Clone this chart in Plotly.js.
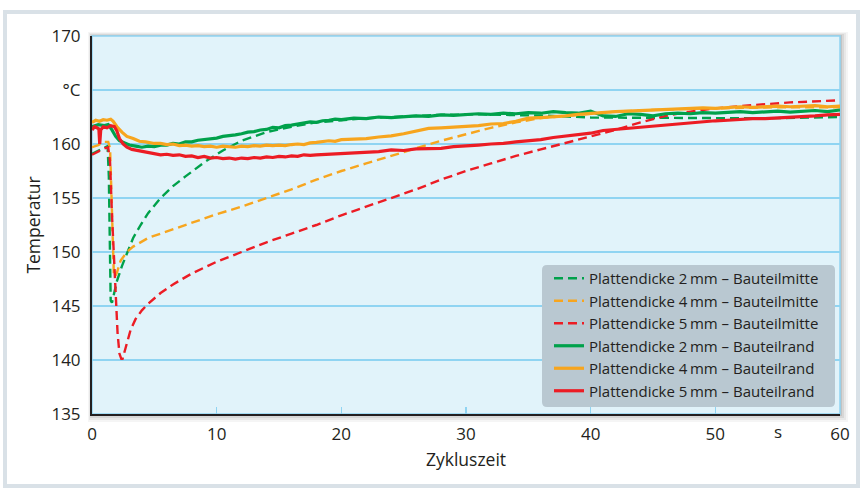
<!DOCTYPE html>
<html><head><meta charset="utf-8">
<script src="https://cdn.plot.ly/plotly-3.0.1.min.js"></script>
<style>html,body{margin:0;padding:0;background:#fff}#chart{width:862px;height:488px}</style>
</head><body><div id="chart"></div>
<script>
// ---- data ----
const names = [
  "Plattendicke 2\u2009mm \u2013 Bauteilmitte",
  "Plattendicke 4\u2009mm \u2013 Bauteilmitte",
  "Plattendicke 5\u2009mm \u2013 Bauteilmitte",
  "Plattendicke 2\u2009mm \u2013 Bauteilrand",
  "Plattendicke 4\u2009mm \u2013 Bauteilrand",
  "Plattendicke 5\u2009mm \u2013 Bauteilrand"
];
const tMitte2 = [0,0.5,1.0,1.25,1.35,1.42,1.5,1.6,1.75,2.0,2.4,2.8,3.3,3.9,4.5,5.5,6.5,7.5,9,10.5,12,14,16,18,20,22,25,28,31,34,37,40,45,50,55,60];
const TMitte2 = [159.1,159.4,159.7,159.8,157,151.5,145.5,145.3,146.0,147.3,148.7,149.9,151.3,152.5,153.6,155.0,156.1,157.0,158.3,159.4,160.3,161.1,161.6,162.0,162.2,162.4,162.55,162.7,162.75,162.7,162.6,162.45,162.4,162.4,162.4,162.5];

const tMitte4 = [0,0.5,1.0,1.3,1.45,1.55,1.65,1.75,1.85,2.0,2.3,2.8,3.3,3.9,4.5,5.5,7,8.5,10,12,14,16,18,20,22,24,26,28,30,32,34,36,38,40,42,44,46,50,55,60];
const TMitte4 = [159.7,159.9,160.2,160.2,159.6,155,150,148,147.7,148.1,149.2,150.0,150.5,150.9,151.3,151.7,152.3,152.9,153.5,154.2,155.0,155.8,156.7,157.5,158.2,158.9,159.6,160.3,160.9,161.5,162.0,162.4,162.6,162.8,163.0,163.1,163.2,163.3,163.4,163.4];

const tMitte5 = [0,0.5,1.0,1.3,1.45,1.6,1.75,1.9,2.05,2.2,2.35,2.45,2.6,2.8,3.1,3.5,4.0,4.5,5.5,6.5,8,10,12,14,16,18,20,22,24,26,28,30,32,34,36,38,40,42,44,46,48,50,53,56,60];
const TMitte5 = [159.0,159.3,159.6,159.7,158.3,153.5,149.5,145.5,142.5,140.6,140.1,140.1,140.7,141.6,142.8,143.8,144.6,145.2,146.2,147.0,148.0,149.1,150.0,150.9,151.7,152.5,153.4,154.2,155.0,155.8,156.7,157.5,158.2,158.9,159.5,160.1,160.7,161.3,162.0,162.6,163.0,163.3,163.6,163.85,164.05];

const tRand2 = [0,0.5,1.0,1.3,1.6,1.9,2.2,2.6,3.0,3.5,4.0,4.5,5.0,5.5,6,6.5,7,7.5,8,8.5,9,9.5,10,10.5,11,11.5,12,12.5,13,13.5,14,14.5,15,15.5,16,16.5,17,17.5,18,18.5,19,19.5,20,21,22,23,24,25,26,27,28,29,30,31,32,33,34,35,36,37,38,39,40,40.5,41,42,43,44,45,46,47,48,49,50,51,52,53,54,55,56,57,58,59,60];
const TRand2 = [161.6,161.8,161.7,161.8,161.3,160.7,160.3,160.1,159.9,159.8,159.7,159.8,159.75,159.9,159.9,160.05,160.0,160.2,160.2,160.35,160.4,160.5,160.55,160.7,160.75,160.85,160.95,161.1,161.15,161.3,161.35,161.55,161.5,161.7,161.75,161.85,161.9,162.05,162.0,162.15,162.2,162.3,162.25,162.4,162.35,162.5,162.45,162.55,162.6,162.55,162.7,162.65,162.75,162.8,162.75,162.85,162.8,162.9,162.85,163.0,162.9,162.85,163.05,162.85,162.6,162.55,162.8,162.75,162.6,162.8,162.85,162.8,162.9,162.85,162.9,163.0,162.9,163.0,163.05,162.95,163.05,163.1,163.0,163.15];

const tRand4 = [0,0.3,0.6,0.9,1.2,1.5,1.7,2.0,2.4,2.8,3.3,3.8,4.3,5,5.5,6,6.5,7,7.5,8,8.5,9,9.5,10,10.5,11,11.5,12,12.5,13,13.5,14,14.5,15,15.5,16,16.5,17,17.5,18,18.5,19,19.5,20,21,22,23,24,25,26,27,28,29,30,31,32,33,34,35,36,37,38,39,40,41,42,43,44,45,46,47,48,49,50,51,52,53,54,55,56,57,58,59,60];
const TRand4 = [162.0,162.2,162.1,162.25,162.2,162.3,162.1,161.6,161.1,160.7,160.5,160.25,160.2,160.05,160.05,159.95,160.0,159.85,159.9,159.8,159.85,159.75,159.8,159.7,159.8,159.75,159.7,159.8,159.75,159.85,159.8,159.9,159.85,159.9,159.85,159.95,160.0,159.95,160.1,160.15,160.2,160.3,160.25,160.4,160.45,160.5,160.65,160.75,160.95,161.2,161.45,161.5,161.55,161.65,161.7,161.85,161.9,162.1,162.4,162.45,162.5,162.6,162.75,162.85,162.9,163.0,163.05,163.1,163.2,163.2,163.25,163.3,163.35,163.3,163.35,163.45,163.4,163.45,163.5,163.45,163.5,163.55,163.45,163.5];

const tRand5 = [0,0.2,0.4,0.55,0.62,0.7,0.9,1.2,1.5,1.8,2.0,2.2,2.5,2.8,3.2,3.6,4.0,4.5,5.0,5.5,6,6.5,7,7.5,8,8.5,9,9.5,10,10.5,11,11.5,12,12.5,13,13.5,14,14.5,15,15.5,16,16.5,17,17.5,18,19,20,21,22,23,24,25,26,27,28,29,30,31,32,33,34,35,36,37,38,39,40,41,42,43,44,45,46,47,48,49,50,51,52,53,54,55,56,57,58,59,60];
const TRand5 = [161.3,161.6,161.5,161.4,160.0,161.3,161.6,161.5,161.7,161.6,161.2,160.5,160.0,159.7,159.5,159.4,159.35,159.2,159.1,159.0,159.05,158.95,159.0,158.85,158.9,158.75,158.85,158.7,158.75,158.65,158.7,158.6,158.7,158.65,158.75,158.7,158.8,158.75,158.85,158.8,158.9,158.85,159.0,158.95,159.0,159.05,159.1,159.2,159.25,159.3,159.45,159.4,159.55,159.6,159.6,159.75,159.8,159.9,160.0,160.05,160.2,160.3,160.4,160.6,160.75,160.85,161.0,161.25,161.35,161.45,161.6,161.7,161.8,161.9,162.0,162.1,162.15,162.2,162.3,162.35,162.35,162.4,162.45,162.5,162.6,162.7,162.75];

const colors = ["#00a14b", "#f7a51e", "#ec1c24"];
const yTickVals = [135,140,145,150,155,160,165,170];
const yTickText = ["135","140","145","150","155","160","\u00b0C","170"];
const xTickVals = [0,10,20,30,40,50,60];
const xTickText = ["0","10","20","30","40","50","60"];
const xUnitPos = 55, xUnitText = "s";

// ---- chart ----
const FONT = "Open Sans, Liberation Sans, sans-serif";
const TXT = "#231f20";
const series = [
  [tMitte2, TMitte2], [tMitte4, TMitte4], [tMitte5, TMitte5],
  [tRand2, TRand2], [tRand4, TRand4], [tRand5, TRand5]
];
const traces = series.map((s, i) => ({
  x: s[0], y: s[1], name: names[i], type: "scatter", mode: "lines",
  line: i < 3 ? {color: colors[i], width: 2.4, dash: "9px,5px"} : {color: colors[i - 3], width: 3.2},
  hoverinfo: "skip"
}));

const W = 748, H = 378; // plot area px
const px = v => v / W, py = v => v / H;
const shapes = [];
// figure frame
shapes.push({type:"rect", xref:"paper", yref:"paper", layer:"below",
  x0: px(5-92), x1: px(858-92), y0: py(414-486), y1: py(414-12),
  line:{color:"#d9e1e7", width:4}, fillcolor:"rgba(0,0,0,0)"});
// soft shadow of the plot panel
[[4,8,0.04],[3,6,0.05],[2,4,0.07],[1,2,0.09]].forEach(([a,b,o]) => shapes.push({
  type:"rect", xref:"paper", yref:"paper", layer:"below",
  x0: px(-a), x1: 1 + px(b), y0: -py(b), y1: 1 + py(a),
  line:{width:0}, fillcolor:`rgba(0,0,0,${o})`}));
// plot background
shapes.push({type:"rect", xref:"paper", yref:"paper", layer:"below",
  x0:0, x1:1, y0:0, y1:1, line:{color:"#8fd4f2", width:1.5}, fillcolor:"#e1f3fa"});
// legend box (rounded)
(function(){
  const L = px(542-92), R = px(835-92), T = py(414-265), B = py(414-407);
  const rx = px(5), ry = py(5);
  const path = `M${L+rx},${B} L${R-rx},${B} Q${R},${B} ${R},${B+ry} L${R},${T-ry} Q${R},${T} ${R-rx},${T} ` +
               `L${L+rx},${T} Q${L},${T} ${L},${T-ry} L${L},${B+ry} Q${L},${B} ${L+rx},${B} Z`;
  shapes.push({type:"path", xref:"paper", yref:"paper", layer:"above", path,
    line:{width:0}, fillcolor:"#b9c8d1"});
})();

const layout = {
  width: 862, height: 488,
  margin: {l: 92, r: 22, t: 36, b: 74},
  paper_bgcolor: "#ffffff", plot_bgcolor: "rgba(0,0,0,0)",
  font: {family: FONT, color: TXT, size: 16},
  showlegend: true,
  legend: {x: px(549-92), xanchor: "left", y: py(414-262), yanchor: "top",
    bgcolor: "rgba(0,0,0,0)", borderwidth: 0, font: {family: FONT, size: 15, color: TXT},
    tracegroupgap: 0},
  xaxis: {range: [0, 60], tickvals: xTickVals, ticktext: xTickText,
    ticks: "inside", ticklen: 7, tickwidth: 1.5, tickcolor: "#8fd4f2",
    showgrid: false, zeroline: false, showline: true, linecolor: "#231f20", linewidth: 2,
    tickfont: {family: FONT, size: 17, color: TXT}, ticklabelstandoff: 4,
    title: {text: "Zykluszeit", font: {family: FONT, size: 17.5, color: TXT}, standoff: 9}},
  yaxis: {range: [135, 170], tickvals: yTickVals, ticktext: yTickText,
    ticks: "", showgrid: true, gridcolor: "#8fd4f2", gridwidth: 1.5,
    zeroline: false, showline: true, linecolor: "#231f20", linewidth: 2,
    tickfont: {family: FONT, size: 17, color: TXT}, ticklabelstandoff: 6,
    title: {text: "Temperatur", font: {family: FONT, size: 17.5, color: TXT}, standoff: 6}},
  shapes,
  annotations: [{x: xUnitPos, xref: "x", y: 0, yref: "paper", yanchor: "top", yshift: -4,
    text: xUnitText, showarrow: false, font: {family: FONT, size: 17, color: TXT}}]
};
Plotly.newPlot("chart", traces, layout, {displayModeBar: false, staticPlot: true});
</script></body></html>
